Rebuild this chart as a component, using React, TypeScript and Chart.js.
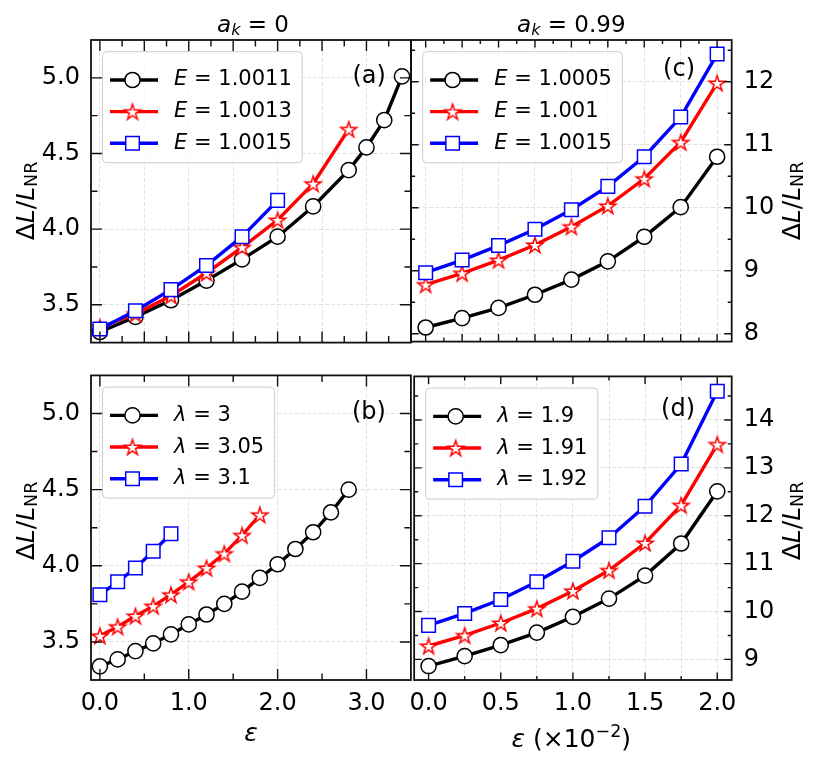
import { useEffect, useRef } from 'react';
import type { CSSProperties } from 'react';
import { Chart, registerables } from 'chart.js';

Chart.register(...registerables);

const FONT = '"DejaVu Sans", sans-serif';
const W = 814;
const H = 764;

// ---- values ----
// (a) a_k = 0, three energies
const epsA1 = [0, 0.4, 0.8, 1.2, 1.6, 2.0, 2.4, 2.8, 3.0, 3.2, 3.4];
const dLA1 = [3.32, 3.42, 3.53, 3.66, 3.8, 3.95, 4.15, 4.39, 4.54, 4.72, 5.01];
const epsA2 = [0, 0.4, 0.8, 1.2, 1.6, 2.0, 2.4, 2.8];
const dLA2 = [3.35, 3.44, 3.56, 3.71, 3.88, 4.06, 4.3, 4.66];
const epsA3 = [0, 0.4, 0.8, 1.2, 1.6, 2.0];
const dLA3 = [3.34, 3.46, 3.6, 3.76, 3.95, 4.19];

// (b) a_k = 0, three lambdas
const epsB1 = [0, 0.2, 0.4, 0.6, 0.8, 1.0, 1.2, 1.4, 1.6, 1.8, 2.0, 2.2, 2.4, 2.6, 2.8];
const dLB1 = [3.34, 3.385, 3.44, 3.49, 3.55, 3.615, 3.68, 3.75, 3.83, 3.92, 4.01, 4.11, 4.22, 4.35, 4.5];
const epsB2 = [0, 0.2, 0.4, 0.6, 0.8, 1.0, 1.2, 1.4, 1.6, 1.8];
const dLB2 = [3.54, 3.6, 3.67, 3.735, 3.81, 3.895, 3.985, 4.08, 4.2, 4.335];
const epsB3 = [0, 0.2, 0.4, 0.6, 0.8];
const dLB3 = [3.81, 3.895, 3.985, 4.095, 4.21];

// (c), (d) a_k = 0.99, epsilon in units of 1e-2
const epsR = [0, 0.25, 0.5, 0.75, 1.0, 1.25, 1.5, 1.75, 2.0];
const dLC1 = [8.1, 8.25, 8.41, 8.62, 8.86, 9.15, 9.54, 10.01, 10.81];
const dLC2 = [8.78, 8.96, 9.17, 9.41, 9.7, 10.03, 10.46, 11.04, 11.98];
const dLC3 = [8.97, 9.17, 9.4, 9.66, 9.97, 10.34, 10.81, 11.44, 12.44];
const dLD1 = [8.86, 9.07, 9.3, 9.56, 9.89, 10.27, 10.75, 11.42, 12.51];
const dLD2 = [9.28, 9.5, 9.76, 10.06, 10.43, 10.86, 11.43, 12.22, 13.49];
const dLD3 = [9.71, 9.96, 10.25, 10.62, 11.05, 11.54, 12.2, 13.08, 14.6];

// legend values
const energiesA = ['1.0011', '1.0013', '1.0015'];
const lambdasB = ['3', '3.05', '3.1'];
const energiesC = ['1.0005', '1.001', '1.0015'];
const lambdasD = ['1.9', '1.91', '1.92'];

// ticks
const xMajorA = [0, 0.5, 1, 1.5, 2, 2.5, 3];
const xMinorA = [0.25, 0.75, 1.25, 1.75, 2.25, 2.75, 3.25];
const xMajorB = [0, 1, 2, 3];
const xMinorB = [0.5, 1.5, 2.5];
const xLabelsL = [0, 1, 2, 3];
const yMajorL = [3.5, 4, 4.5, 5];
const yMinorL = [3.75, 4.25, 4.75];
const xGridR = [0, 0.25, 0.5, 0.75, 1, 1.25, 1.5, 1.75, 2];
const xMinorC = [0.125, 0.375, 0.625, 0.875, 1.125, 1.375, 1.625, 1.875];
const xMajorD = [0, 0.5, 1, 1.5, 2];
const xMinorD = [0.25, 0.75, 1.25, 1.75];
const xLabelsR = [0, 0.5, 1, 1.5, 2];
const yMajorC = [8, 9, 10, 11, 12];
const yMinorC = [8.5, 9.5, 10.5, 11.5, 12.5];
const yMajorD = [9, 10, 11, 12, 13, 14];
const yMinorD = [9.5, 10.5, 11.5, 12.5, 13.5, 14.5];

type Marker = 'circle' | 'star' | 'square';
type Series = { xs: number[]; ys: number[]; color: string; marker: Marker; value: string };
type PanelCfg = {
  box: [number, number, number, number]; // canvas on page: left, top, width, height
  area: [number, number, number, number]; // frame on page: left, top, right, bottom
  yRight: boolean;
  xRange: [number, number];
  yRange: [number, number];
  xGrid: number[];
  xMajor: number[];
  xMinor: number[];
  xLabels: number[] | null;
  xDigits: number;
  yMajor: number[];
  yMinor: number[];
  yDigits: number;
  tickLen: [number, number];
  variable: string;
  letter: string;
  letterDx: number;
  letterDy: number;
  series: Series[];
};

const trio = (xs: number[][], ys: number[][], values: string[]): Series[] => [
  { xs: xs[0], ys: ys[0], color: '#000000', marker: 'circle', value: values[0] },
  { xs: xs[1], ys: ys[1], color: '#ff0000', marker: 'star', value: values[1] },
  { xs: xs[2], ys: ys[2], color: '#0000ff', marker: 'square', value: values[2] },
];

const PANELS: PanelCfg[] = [
  {
    box: [0, 0, 422, 368],
    area: [91, 40, 411, 360],
    yRight: false,
    xRange: [-0.1, 3.5],
    yRange: [3.25, 5.25],
    xGrid: xMajorA,
    xMajor: xMajorA,
    xMinor: xMinorA,
    xLabels: null,
    xDigits: 1,
    yMajor: yMajorL,
    yMinor: yMinorL,
    yDigits: 1,
    tickLen: [11, 6.5],
    variable: 'E',
    letter: '(a)',
    letterDx: 25,
    letterDy: 37,
    series: trio([epsA1, epsA2, epsA3], [dLA1, dLA2, dLA3], energiesA),
  },
  {
    box: [0, 350, 422, 414],
    area: [91, 360, 411, 680],
    yRight: false,
    xRange: [-0.1, 3.5],
    yRange: [3.25, 5.25],
    xGrid: xMajorB,
    xMajor: xMajorB,
    xMinor: xMinorB,
    xLabels: xLabelsL,
    xDigits: 1,
    yMajor: yMajorL,
    yMinor: yMinorL,
    yDigits: 1,
    tickLen: [11, 6.5],
    variable: 'λ',
    letter: '(b)',
    letterDx: 25,
    letterDy: 37,
    series: trio([epsB1, epsB2, epsB3], [dLB1, dLB2, dLB3], lambdasB),
  },
  {
    box: [400, 0, 414, 368],
    area: [411, 40, 731.7, 360],
    yRight: true,
    xRange: [-0.1, 2.1],
    yRange: [7.876, 12.663],
    xGrid: xGridR,
    xMajor: xGridR,
    xMinor: xMinorC,
    xLabels: null,
    xDigits: 1,
    yMajor: yMajorC,
    yMinor: yMinorC,
    yDigits: 0,
    tickLen: [7.5, 4],
    variable: 'E',
    letter: '(c)',
    letterDx: 36.7,
    letterDy: 29.5,
    series: trio([epsR, epsR, epsR], [dLC1, dLC2, dLC3], energiesC),
  },
  {
    box: [400, 350, 414, 414],
    area: [411, 360, 731.7, 680],
    yRight: true,
    xRange: [-0.1, 2.1],
    yRange: [8.57, 14.91],
    xGrid: xGridR,
    xMajor: xMajorD,
    xMinor: xMinorD,
    xLabels: xLabelsR,
    xDigits: 1,
    yMajor: yMajorD,
    yMinor: yMinorD,
    yDigits: 0,
    tickLen: [7.5, 4],
    variable: 'λ',
    letter: '(d)',
    letterDx: 36.7,
    letterDy: 33.3,
    series: trio([epsR, epsR, epsR], [dLD1, dLD2, dLD3], lambdasD),
  },
];

const CIRCLE_R = 7.6;
const SQUARE_R = 9.6;
const STAR_R = 8.4;
const MARKER_LW = 1.5;
const LINE_W = 3.4;

const starCache: Record<string, HTMLCanvasElement> = {};
function starImage(color: string) {
  if (starCache[color]) return starCache[color];
  const size = 24;
  const c = document.createElement('canvas');
  c.width = size;
  c.height = size;
  const g = c.getContext('2d')!;
  const inner = STAR_R * 0.382;
  g.beginPath();
  for (let i = 0; i < 10; i++) {
    const r = i % 2 === 0 ? STAR_R : inner;
    const ang = -Math.PI / 2 + (i * Math.PI) / 5;
    const px = size / 2 + r * Math.cos(ang);
    const py = size / 2 + 0.8 + r * Math.sin(ang);
    if (i === 0) g.moveTo(px, py);
    else g.lineTo(px, py);
  }
  g.closePath();
  g.fillStyle = '#ffffff';
  g.fill();
  g.lineWidth = MARKER_LW;
  g.strokeStyle = color;
  g.stroke();
  starCache[color] = c;
  return c;
}

function drawMarker(ctx: CanvasRenderingContext2D, m: Marker, color: string, x: number, y: number) {
  ctx.save();
  ctx.fillStyle = '#ffffff';
  ctx.strokeStyle = color;
  ctx.lineWidth = MARKER_LW;
  if (m === 'circle') {
    ctx.beginPath();
    ctx.arc(x, y, CIRCLE_R, 0, Math.PI * 2);
    ctx.fill();
    ctx.stroke();
  } else if (m === 'square') {
    const s = SQUARE_R * Math.SQRT1_2;
    ctx.beginPath();
    ctx.rect(x - s, y - s, 2 * s, 2 * s);
    ctx.fill();
    ctx.stroke();
  } else {
    const img = starImage(color);
    ctx.drawImage(img, x - img.width / 2, y - img.height / 2);
  }
  ctx.restore();
}

function decoPlugin(p: PanelCfg) {
  return {
    id: 'deco',
    afterDatasetsDraw(chart: Chart) {
      const { ctx, chartArea: a } = chart;
      const sx = chart.scales.x;
      const sy = chart.scales.y;
      const [maj, min] = p.tickLen;
      ctx.save();
      ctx.strokeStyle = '#111111';
      ctx.lineWidth = 1.4;
      ctx.beginPath();
      const vTicks = (vals: number[], len: number) =>
        vals.forEach((v) => {
          const px = sx.getPixelForValue(v);
          ctx.moveTo(px, a.bottom);
          ctx.lineTo(px, a.bottom - len);
          ctx.moveTo(px, a.top);
          ctx.lineTo(px, a.top + len);
        });
      const hTicks = (vals: number[], len: number) =>
        vals.forEach((v) => {
          const py = sy.getPixelForValue(v);
          ctx.moveTo(a.left, py);
          ctx.lineTo(a.left + len, py);
          ctx.moveTo(a.right, py);
          ctx.lineTo(a.right - len, py);
        });
      vTicks(p.xMajor, maj);
      vTicks(p.xMinor, min);
      hTicks(p.yMajor, maj);
      hTicks(p.yMinor, min);
      ctx.stroke();
      ctx.lineWidth = 1.8;
      ctx.strokeRect(a.left, a.top, a.right - a.left, a.bottom - a.top);
      ctx.restore();
    },
    afterDraw(chart: Chart) {
      const { ctx, chartArea: a } = chart;
      ctx.save();
      // legend
      const bx = a.left + 11.5;
      const by = a.top + 11.7;
      const italic = `italic 21px ${FONT}`;
      const upright = `21px ${FONT}`;
      let maxW = 0;
      p.series.forEach((s) => {
        ctx.font = italic;
        const w1 = ctx.measureText(p.variable).width;
        ctx.font = upright;
        const w2 = ctx.measureText(` = ${s.value}`).width;
        maxW = Math.max(maxW, w1 + w2);
      });
      const bw = 71.6 + maxW + 10.4;
      const bh = 111;
      ctx.beginPath();
      ctx.roundRect(bx, by, bw, bh, 4);
      ctx.fillStyle = 'rgba(255,255,255,0.8)';
      ctx.fill();
      ctx.lineWidth = 1;
      ctx.strokeStyle = '#cccccc';
      ctx.stroke();
      p.series.forEach((s, i) => {
        const cy = by + 28.3 + i * 31.65;
        ctx.beginPath();
        ctx.moveTo(bx + 7.5, cy);
        ctx.lineTo(bx + 55.5, cy);
        ctx.lineWidth = LINE_W;
        ctx.strokeStyle = s.color;
        ctx.stroke();
        drawMarker(ctx, s.marker, s.color, bx + 30, cy);
        ctx.fillStyle = '#000000';
        ctx.textBaseline = 'middle';
        ctx.textAlign = 'left';
        ctx.font = italic;
        const tx = bx + 71.6;
        ctx.fillText(p.variable, tx, cy);
        const w1 = ctx.measureText(p.variable).width;
        ctx.font = upright;
        ctx.fillText(` = ${s.value}`, tx + w1, cy);
      });
      // panel letter
      ctx.font = `24px ${FONT}`;
      ctx.fillStyle = '#000000';
      ctx.textAlign = 'right';
      ctx.textBaseline = 'middle';
      ctx.fillText(p.letter, a.right - p.letterDx, a.top + p.letterDy);
      ctx.restore();
    },
  };
}

const near = (list: number[], v: number) => list.some((t) => Math.abs(t - v) < 1e-6);

function buildChart(canvas: HTMLCanvasElement, p: PanelCfg) {
  const [bx, by, bw, bh] = p.box;
  const [L, T, R, B] = p.area;
  const gridColor = 'rgba(170,170,170,0.35)';
  const tickFont = { family: FONT, size: 24 };
  const datasets = p.series.map((s, i) => ({
    data: s.xs.map((x, j) => ({ x, y: s.ys[j] })),
    borderColor: s.color,
    borderWidth: LINE_W,
    tension: 0,
    fill: false,
    pointStyle: s.marker === 'circle' ? 'circle' : s.marker === 'square' ? 'rect' : starImage(s.color),
    pointRadius: s.marker === 'square' ? SQUARE_R : CIRCLE_R,
    pointBackgroundColor: '#ffffff',
    pointBorderColor: s.color,
    pointBorderWidth: MARKER_LW,
    order: p.series.length - i,
  }));

  return new Chart(canvas, {
    type: 'line',
    data: { datasets: datasets as any },
    options: {
      animation: false,
      responsive: false,
      events: [],
      layout: {
        padding: {
          left: p.yRight ? L - bx : 0,
          right: p.yRight ? 0 : bx + bw - R,
          top: T - by,
          bottom: 0,
        },
      },
      plugins: { legend: { display: false }, tooltip: { enabled: false } },
      scales: {
        x: {
          type: 'linear',
          min: p.xRange[0],
          max: p.xRange[1],
          afterBuildTicks: (s: any) => {
            s.ticks = p.xGrid.map((v) => ({ value: v }));
          },
          afterFit: (s: any) => {
            s.height = by + bh - B;
          },
          grid: { color: gridColor, lineWidth: 1, drawTicks: false },
          border: { display: false, dash: [4, 2] },
          ticks: {
            display: p.xLabels !== null,
            font: tickFont,
            color: '#000000',
            padding: 9,
            autoSkip: false,
            maxRotation: 0,
            callback: (v: any) =>
              p.xLabels && near(p.xLabels, Number(v)) ? Number(v).toFixed(p.xDigits) : '',
          },
        },
        y: {
          type: 'linear',
          position: p.yRight ? 'right' : 'left',
          min: p.yRange[0],
          max: p.yRange[1],
          afterBuildTicks: (s: any) => {
            s.ticks = p.yMajor.map((v) => ({ value: v }));
          },
          afterFit: (s: any) => {
            s.width = p.yRight ? bx + bw - R : L - bx;
          },
          grid: { color: gridColor, lineWidth: 1, drawTicks: false },
          border: { display: false, dash: [4, 2] },
          ticks: {
            font: tickFont,
            color: '#000000',
            padding: p.yRight ? 12 : 11,
            autoSkip: false,
            callback: (v: any) => Number(v).toFixed(p.yDigits),
          },
        },
      },
    },
    plugins: [decoPlugin(p)],
  });
}

const txt: CSSProperties = {
  position: 'absolute',
  fontFamily: FONT,
  lineHeight: 1,
  whiteSpace: 'nowrap',
  color: '#000000',
};
const sub: CSSProperties = { fontSize: '0.7em', lineHeight: 0, verticalAlign: '-0.22em' };
const sup: CSSProperties = { fontSize: '0.7em', lineHeight: 0, verticalAlign: '0.52em' };

function YLabel({ x, y }: { x: number; y: number }) {
  return (
    <div
      style={{
        ...txt,
        fontSize: 25,
        left: x,
        top: y,
        transform: 'translate(-50%, -50%) rotate(-90deg)',
      }}
    >
      Δ<i>L</i>/<i>L</i>
      <span style={sub}>NR</span>
    </div>
  );
}

export default function App() {
  const canvases = useRef<(HTMLCanvasElement | null)[]>([]);

  useEffect(() => {
    const charts = PANELS.map((p, i) => buildChart(canvases.current[i]!, p));
    return () => charts.forEach((c) => c.destroy());
  }, []);

  return (
    <div style={{ position: 'absolute', left: 0, top: 0, width: W, height: H, background: '#ffffff' }}>
      {PANELS.map((p, i) => (
        <canvas
          key={i}
          ref={(el) => {
            canvases.current[i] = el;
          }}
          width={p.box[2]}
          height={p.box[3]}
          style={{ position: 'absolute', left: p.box[0], top: p.box[1] }}
        />
      ))}

      <div style={{ ...txt, fontSize: 23, left: 253, top: 23.5, transform: 'translate(-50%, -50%)' }}>
        <i>a</i>
        <span style={sub}>
          <i>k</i>
        </span>
        {' = 0'}
      </div>
      <div style={{ ...txt, fontSize: 23, left: 571.3, top: 23.5, transform: 'translate(-50%, -50%)' }}>
        <i>a</i>
        <span style={sub}>
          <i>k</i>
        </span>
        {' = 0.99'}
      </div>

      <YLabel x={24.5} y={201} />
      <YLabel x={24.5} y={521} />
      <YLabel x={791} y={201} />
      <YLabel x={791} y={521} />

      <div style={{ ...txt, fontSize: 25, left: 251, top: 732, transform: 'translate(-50%, -50%)' }}>
        <i>ε</i>
      </div>
      <div style={{ ...txt, fontSize: 25, left: 571.3, top: 737.5, transform: 'translate(-50%, -50%)' }}>
        <i>ε</i> (×10<span style={sup}>−2</span>)
      </div>
    </div>
  );
}
